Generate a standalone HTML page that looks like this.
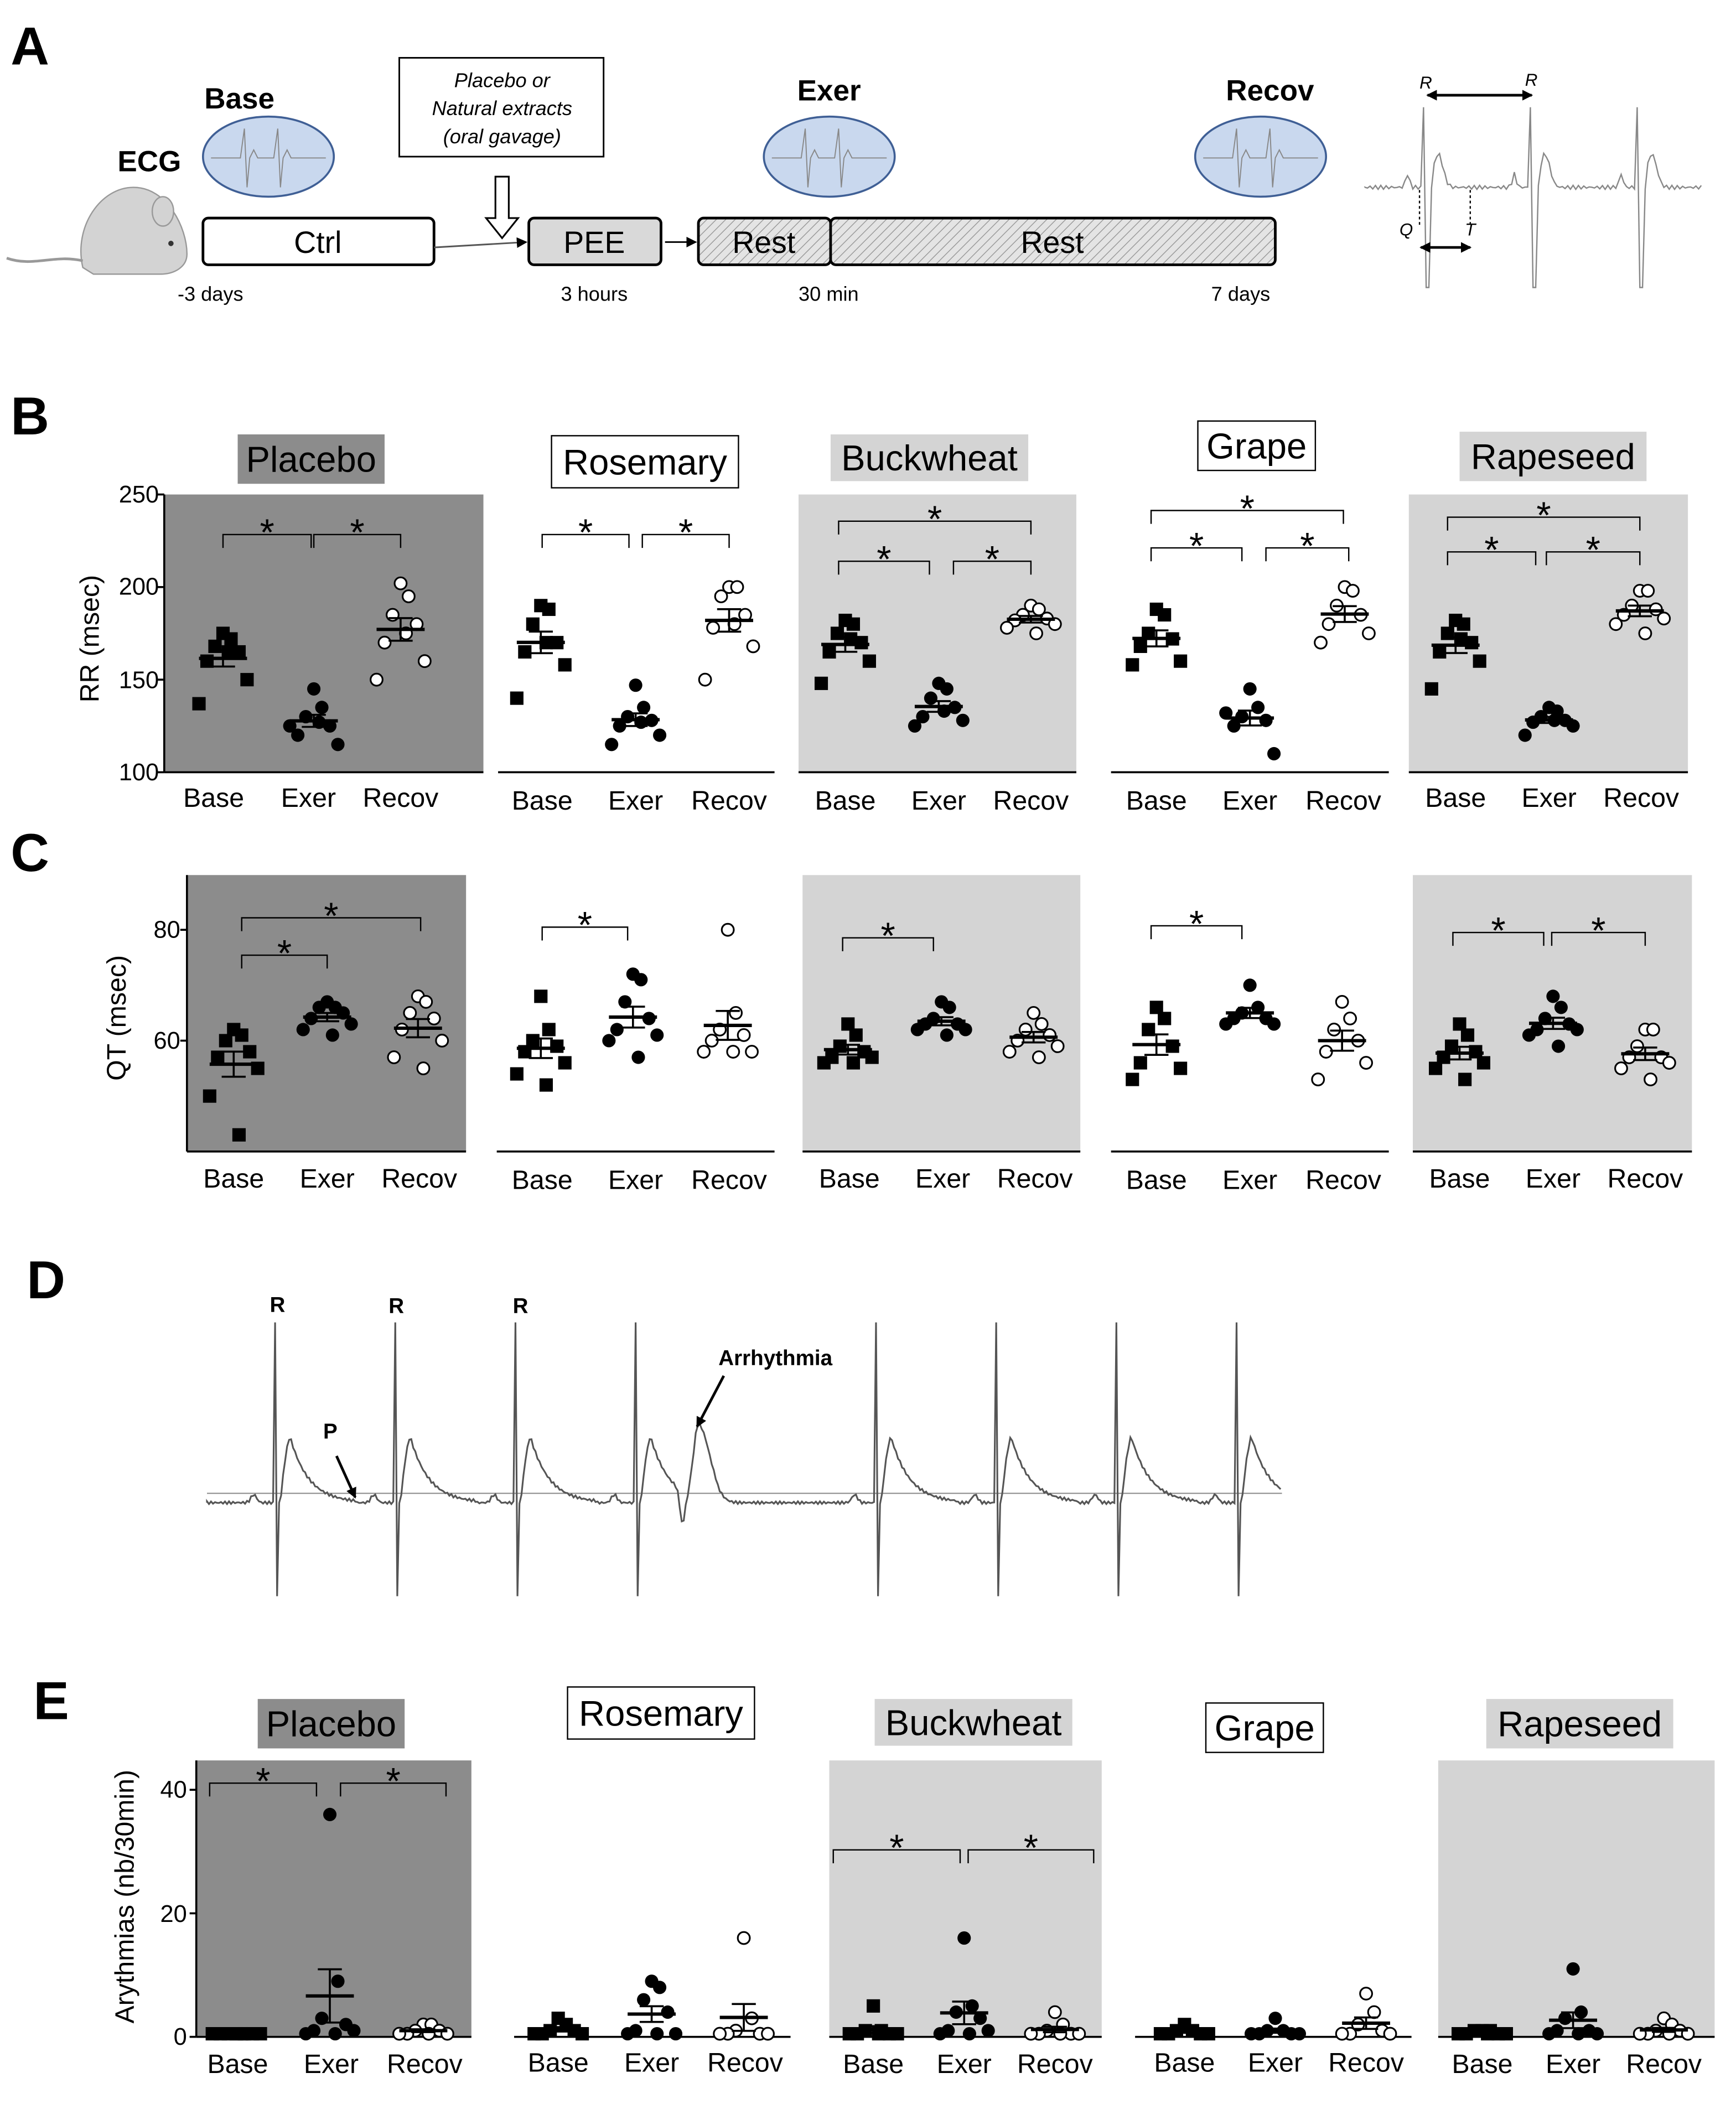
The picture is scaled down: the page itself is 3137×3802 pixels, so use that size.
<!DOCTYPE html>
<html><head><meta charset="utf-8"><style>
html,body{margin:0;padding:0;background:#fff}
svg{display:block}
text{font-family:"Liberation Sans",Arial,sans-serif}
</style></head><body>
<svg id="s" width="3137" height="3802" viewBox="0 0 1300 1575" xmlns="http://www.w3.org/2000/svg">
<defs>
<pattern id="h" width="5" height="5" patternUnits="userSpaceOnUse" patternTransform="rotate(45)">
<rect width="5" height="5" fill="#e4e4e4"/><line x1="0" y1="0" x2="0" y2="5" stroke="#999" stroke-width="1.2"/></pattern>
<marker id="ar" markerUnits="userSpaceOnUse" markerWidth="8" markerHeight="8" refX="7" refY="4" orient="auto"><path d="M0,0 L8,4 L0,8z" fill="#000"/></marker>
<marker id="al" markerUnits="userSpaceOnUse" markerWidth="8" markerHeight="8" refX="1" refY="4" orient="auto"><path d="M8,0 L0,4 L8,8z" fill="#000"/></marker>
</defs>
<rect width="1300" height="1575" fill="#fff"/>
<g font-weight="bold" font-size="40">
<text x="8" y="48">A</text><text x="8" y="325">B</text><text x="8" y="652">C</text><text x="20" y="972">D</text><text x="25" y="1287">E</text></g>
<g font-weight="bold" font-size="22">
<text x="153" y="81">Base</text><text x="88" y="128">ECG</text><text x="597" y="75">Exer</text><text x="918" y="75">Recov</text></g>
<g fill="#c9d8ee" stroke="#3f5f95" stroke-width="1.5">
<ellipse cx="201" cy="117" rx="49" ry="30"/><ellipse cx="621" cy="117" rx="49" ry="30"/><ellipse cx="944" cy="117" rx="49" ry="30"/></g>
<g fill="none" stroke="#888" stroke-width="0.8">
<path d="M158,118 H180 L183,96 L185,140 L187,118 L190,112 L193,118 H205 L208,96 L210,140 L212,118 L215,112 L218,118 H244"/>
<path d="M578,118 H600 L603,96 L605,140 L607,118 L610,112 L613,118 H625 L628,96 L630,140 L632,118 L635,112 L638,118 H664"/>
<path d="M901,118 H923 L926,96 L928,140 L930,118 L933,112 L936,118 H948 L951,96 L953,140 L955,118 L958,112 L961,118 H987"/></g>
<rect x="299" y="43" width="153" height="74" fill="#fff" stroke="#000" stroke-width="1.2"/>
<g font-style="italic" font-size="15" text-anchor="middle"><text x="376" y="65">Placebo  or</text><text x="376" y="86">Natural extracts</text><text x="376" y="107">(oral gavage)</text></g>
<path d="M371,132 H381 V163 H388 L376,178 L364,163 H371Z" fill="#fff" stroke="#000" stroke-width="1.3"/>
<g fill="#d3d3d3" stroke="#999" stroke-width="1">
<path d="M62,200 C55,170 75,140 100,140 C125,140 140,170 140,190 C140,200 130,205 120,205 L70,205 Z"/>
<ellipse cx="122" cy="158" rx="8" ry="11"/></g>
<path d="M62,195 C40,190 25,200 5,193" fill="none" stroke="#999" stroke-width="2"/>
<circle cx="128" cy="182" r="2" fill="#333"/>
<rect x="152" y="163" width="173" height="35" rx="4" fill="#fff" stroke="#000" stroke-width="2"/>
<rect x="396" y="163" width="99" height="35" rx="4" fill="#d9d9d9" stroke="#000" stroke-width="2"/>
<rect x="523" y="163" width="99" height="35" rx="4" fill="url(#h)" stroke="#000" stroke-width="2"/>
<rect x="622" y="163" width="333" height="35" rx="4" fill="url(#h)" stroke="#000" stroke-width="2"/>
<line x1="325" y1="185" x2="394" y2="181" stroke="#555" stroke-width="1.2" marker-end="url(#ar)"/>
<line x1="498" y1="181" x2="521" y2="181" stroke="#000" stroke-width="1.2" marker-end="url(#ar)"/>
<g font-size="23" text-anchor="middle"><text x="238" y="189">Ctrl</text><text x="445" y="189">PEE</text><text x="572" y="189">Rest</text><text x="788" y="189">Rest</text></g>
<g font-size="15"><text x="133" y="225">-3 days</text><text x="420" y="225">3 hours</text><text x="598" y="225">30 min</text><text x="907" y="225">7 days</text></g>
<path id="ecgA" fill="none" stroke="#888" stroke-width="1"/>
<line x1="1069" y1="71" x2="1147" y2="71" stroke="#000" stroke-width="2" marker-start="url(#al)" marker-end="url(#ar)"/>
<line x1="1064" y1="185" x2="1101" y2="185" stroke="#000" stroke-width="2" marker-start="url(#al)" marker-end="url(#ar)"/>
<g stroke="#000" stroke-dasharray="2,2"><line x1="1063" y1="142" x2="1063" y2="170"/><line x1="1101" y1="142" x2="1101" y2="170"/></g>
<g font-style="italic" font-size="13"><text x="1063" y="66">R</text><text x="1142" y="64">R</text><text x="1048" y="176">Q</text><text x="1097" y="176">T</text></g>
<line x1="155" y1="1118" x2="960" y2="1118" stroke="#888" stroke-width="0.8"/>
<path id="ecgD" fill="none" stroke="#555" stroke-width="1.3"/>
<g font-weight="bold" font-size="16"><text x="202" y="982">R</text><text x="291" y="983">R</text><text x="384" y="983">R</text><text x="242" y="1077">P</text><text x="538" y="1022">Arrhythmia</text></g>
<line x1="252" y1="1090" x2="266" y2="1121" stroke="#000" stroke-width="2" marker-end="url(#ar)"/>
<line x1="542" y1="1030" x2="522" y2="1068" stroke="#000" stroke-width="2" marker-end="url(#ar)"/>
<g font-size="27" text-anchor="middle">
<rect x="178" y="325" width="110" height="37" fill="#8c8c8c"/><text x="233" y="353">Placebo</text>
<rect x="413" y="326" width="140" height="39" fill="#fff" stroke="#000"/><text x="483" y="355">Rosemary</text>
<rect x="622" y="325" width="148" height="35" fill="#d4d4d4"/><text x="696" y="352">Buckwheat</text>
<rect x="897" y="315" width="88" height="37" fill="#fff" stroke="#000"/><text x="941" y="343">Grape</text>
<rect x="1093" y="323" width="140" height="37" fill="#d4d4d4"/><text x="1163" y="351">Rapeseed</text>
<rect x="193" y="1272" width="110" height="37" fill="#8c8c8c"/><text x="248" y="1300">Placebo</text>
<rect x="425" y="1263" width="140" height="39" fill="#fff" stroke="#000"/><text x="495" y="1292">Rosemary</text>
<rect x="655" y="1272" width="148" height="35" fill="#d4d4d4"/><text x="729" y="1299">Buckwheat</text>
<rect x="903" y="1275" width="88" height="37" fill="#fff" stroke="#000"/><text x="947" y="1303">Grape</text>
<rect x="1113" y="1272" width="140" height="37" fill="#d4d4d4"/><text x="1183" y="1300">Rapeseed</text>
</g>
<g font-size="20" text-anchor="middle">
<text transform="translate(74,478) rotate(-90)">RR (msec)</text>
<text transform="translate(94,762) rotate(-90)">QT (msec)</text>
<text transform="translate(100,1420) rotate(-90)">Arythmias (nb/30min)</text></g>
<g font-size="18" text-anchor="end">
<text x="119" y="376">250</text><text x="119" y="445">200</text><text x="119" y="515">150</text><text x="119" y="584">100</text>
<text x="135" y="702">80</text><text x="135" y="785">60</text>
<text x="140" y="1346">40</text><text x="140" y="1439">20</text><text x="140" y="1531">0</text></g>
<g font-size="20" text-anchor="middle">
<text x="160" y="604">Base</text><text x="231" y="604">Exer</text><text x="300" y="604">Recov</text>
<text x="406" y="606">Base</text><text x="476" y="606">Exer</text><text x="546" y="606">Recov</text>
<text x="633" y="606">Base</text><text x="703" y="606">Exer</text><text x="772" y="606">Recov</text>
<text x="866" y="606">Base</text><text x="936" y="606">Exer</text><text x="1006" y="606">Recov</text>
<text x="1090" y="604">Base</text><text x="1160" y="604">Exer</text><text x="1229" y="604">Recov</text>
<text x="175" y="889">Base</text><text x="245" y="889">Exer</text><text x="314" y="889">Recov</text>
<text x="406" y="890">Base</text><text x="476" y="890">Exer</text><text x="546" y="890">Recov</text>
<text x="636" y="889">Base</text><text x="706" y="889">Exer</text><text x="775" y="889">Recov</text>
<text x="866" y="890">Base</text><text x="936" y="890">Exer</text><text x="1006" y="890">Recov</text>
<text x="1093" y="889">Base</text><text x="1163" y="889">Exer</text><text x="1232" y="889">Recov</text>
<text x="178" y="1552">Base</text><text x="248" y="1552">Exer</text><text x="318" y="1552">Recov</text>
<text x="418" y="1551">Base</text><text x="488" y="1551">Exer</text><text x="558" y="1551">Recov</text>
<text x="654" y="1552">Base</text><text x="722" y="1552">Exer</text><text x="790" y="1552">Recov</text>
<text x="887" y="1551">Base</text><text x="955" y="1551">Exer</text><text x="1023" y="1551">Recov</text>
<text x="1110" y="1552">Base</text><text x="1178" y="1552">Exer</text><text x="1246" y="1552">Recov</text>
</g>
<g id="plots"></g>
</svg>
<script>
var NS="http://www.w3.org/2000/svg",P=document.getElementById('plots');
function el(t,a){var e=document.createElementNS(NS,t);for(var k in a)e.setAttribute(k,a[k]);P.appendChild(e);return e;}
(function(){var d="M1022,140",x=1022;var beats=[1068,1148,1228];
for(x=1022;x<=1275;x+=2){var y=140+Math.sin(x*1.7)*1.5;
beats.forEach(function(b){var dx=x-b;if(dx>=-2&&dx<0)y=80;if(dx>=0&&dx<3)y=215;if(dx>4&&dx<25)y-=25*Math.exp(-Math.pow((dx-9)/5,2));if(dx>-20&&dx<-8)y-=10*Math.exp(-Math.pow((dx+14)/2,2));});
d+=" L"+x+","+y.toFixed(1);}document.getElementById('ecgA').setAttribute('d',d);})();
(function(){var beats=[207,297,387,477,657,747,837,927];var d="M155,1125";
for(var x=155;x<=960;x+=1.5){var y=1125+Math.sin(x*2.3)*1;
beats.forEach(function(b){var dx=x-b;if(dx>=-2&&dx<0)y=990;if(dx>=0&&dx<2)y=1195;if(dx>3&&dx<60)y-=50*Math.exp(-(dx-10)/14)*(dx<10?(dx-3)/7:1);if(dx>-25&&dx<-10)y-=6*Math.exp(-Math.pow((dx+17)/3,2));});
var a=x-520;y+=25*Math.exp(-Math.pow((a+9)/2.5,2));if(a>-4)y-=55*Math.exp(-Math.pow((a-3)/(a<3?5:12),2));
d+=" L"+x.toFixed(1)+","+y.toFixed(1);}document.getElementById('ecgD').setAttribute('d',d);})();
function panel(o){
 if(o.fill)el('rect',{x:o.x1,y:o.y1,width:o.x2-o.x1,height:o.y2-o.y1,fill:o.fill});
 el('line',{x1:o.x1,y1:o.y2,x2:o.x2,y2:o.y2,stroke:'#000','stroke-width':1.5});
 if(o.axis){el('line',{x1:o.x1,y1:o.y1,x2:o.x1,y2:o.y2,stroke:'#000','stroke-width':1.5});
  o.ticks.forEach(function(t){var y=o.f(t);el('line',{x1:o.x1-5,y1:y,x2:o.x1,y2:y,stroke:'#000','stroke-width':1.5});});}
 o.g.forEach(function(vals,i){var cx=o.cx[i],n=vals.length,m=0;vals.forEach(function(v){m+=v});m/=n;
  var sd=0;vals.forEach(function(v){sd+=(v-m)*(v-m)});sd=Math.sqrt(sd/(n-1))/Math.sqrt(n);
  vals.forEach(function(v,j){var px=cx+((j%2?1:-1)*Math.ceil(j/2)*6)%20;var py=o.f(v);
   if(i==0)el('rect',{x:px-5,y:py-5,width:10,height:10,fill:'#000'});
   else if(i==1)el('circle',{cx:px,cy:py,r:5,fill:'#000'});
   else el('circle',{cx:px,cy:py,r:4.5,fill:'#fff',stroke:'#000','stroke-width':1.3});});
  var ym=o.f(m);el('line',{x1:cx-18,y1:ym,x2:cx+18,y2:ym,stroke:'#000','stroke-width':2.5});
  el('line',{x1:cx,y1:o.f(m+sd),x2:cx,y2:o.f(m-sd),stroke:'#000','stroke-width':1.5});
  el('line',{x1:cx-9,y1:o.f(m+sd),x2:cx+9,y2:o.f(m+sd),stroke:'#000','stroke-width':1.5});
  el('line',{x1:cx-9,y1:o.f(m-sd),x2:cx+9,y2:o.f(m-sd),stroke:'#000','stroke-width':1.5});});
 (o.br||[]).forEach(function(b){el('path',{d:'M'+b[0]+','+(b[2]+10)+' V'+b[2]+' H'+b[1]+' V'+(b[2]+10),fill:'none',stroke:'#000','stroke-width':1});
  var t=el('text',{x:(b[0]+b[1])/2,y:b[2]+8,'font-size':28,'text-anchor':'middle'});t.textContent='*';});
}
var fB=function(v){return 578-(v-100)*208/150},fC=function(v){return 779-(v-60)*4.15},fE=function(v){return 1525-v*4.625};
var Bd=[
[[175,172,168,165,160,150,137,165],[145,135,130,125,120,115,125,127],[202,195,185,180,170,160,150,175]],
[[190,188,180,170,165,158,140,170],[147,135,130,128,125,120,115,127],[200,200,195,185,178,168,150,180]],
[[182,180,175,170,165,160,148,172],[148,145,140,135,130,128,125,133],[190,188,185,183,182,180,178,175]],
[[188,185,175,172,168,160,158],[145,135,130,128,125,110,132],[200,198,190,185,180,175,170]],
[[182,180,175,170,165,160,145,172],[135,133,130,128,127,125,120,128],[198,198,190,188,185,183,180,175]]];
var Cd=[
[[62,61,60,58,57,55,50,43],[67,66,66,65,64,63,62,61],[68,67,65,64,62,60,57,55]],
[[68,62,60,59,58,56,54,52],[72,71,67,64,62,61,60,57],[80,65,62,61,60,58,58,58]],
[[63,61,59,58,57,57,56,56],[67,66,64,63,63,62,62,61],[65,63,62,61,60,59,58,57]],
[[66,64,62,59,56,55,53],[70,66,65,64,64,63,63],[67,64,62,60,58,56,53]],
[[63,61,59,58,57,56,55,53],[68,66,64,63,62,62,61,59],[62,62,59,57,57,56,55,53]]];
var Ed=[
[[0.5,0.5,0.5,0.5,0.5,0.5,0.5,0.5],[36,9,3,2,1,1,0.5,0.5],[2,2,1,1,0.5,0.5,0.5,0.5]],
[[3,2,1,1,0.5,0.5,0.5],[9,8,6,4,1,0.5,0.5,0.5],[16,3,1,0.5,0.5,0.5,0.5]],
[[5,1,1,0.5,0.5,0.5,0.5,0.5],[16,5,4,3,1,1,0.5,0.5],[4,2,1,0.5,0.5,0.5,0.5,0.5]],
[[2,1,1,0.5,0.5,0.5,0.5],[3,1,1,0.5,0.5,0.5,0.5],[7,4,2,1,0.5,0.5,0.5]],
[[1,1,1,0.5,0.5,0.5,0.5,0.5],[11,4,3,1,1,0.5,0.5,0.5],[3,2,1,1,0.5,0.5,0.5,0.5]]];
var fills=['#8c8c8c',null,'#d4d4d4',null,'#d4d4d4'];
var BX=[[123,362],[373,580],[598,806],[832,1040],[1055,1264]],
BC=[[167,235,300],[405,476,546],[633,703,772],[866,936,1007],[1090,1160,1228]],
BB=[[[167,233,400],[235,300,400]],[[406,471,400],[481,546,400]],[[628,772,390],[628,696,420],[714,772,420]],[[862,1006,382],[862,930,410],[948,1010,410]],[[1084,1228,387],[1084,1150,413],[1158,1228,413]]];
var CX=[[140,349],[372,580],[601,809],[832,1040],[1058,1267]],
CC=[[175,245,313],[405,474,545],[635,705,774],[866,936,1005],[1093,1163,1232]],
CB=[[[181,315,687],[181,245,715]],[[406,470,694]],[[631,699,702]],[[862,930,693]],[[1088,1156,698],[1162,1232,698]]];
var EX=[[147,353],[385,592],[621,825],[850,1057],[1077,1284]],
EC=[[177,247,317],[418,488,557],[654,722,790],[887,955,1023],[1110,1178,1246]],
EB=[[[157,237,1335],[255,334,1335]],[],[[624,719,1385],[725,819,1385]],[],[]];
for(var i=0;i<5;i++){
panel({x1:BX[i][0],x2:BX[i][1],y1:370,y2:578,fill:fills[i],axis:i==0,ticks:[250,200,150,100],f:fB,g:Bd[i],cx:BC[i],br:BB[i]});
panel({x1:CX[i][0],x2:CX[i][1],y1:655,y2:862,fill:fills[i],axis:i==0,ticks:[80,60],f:fC,g:Cd[i],cx:CC[i],br:CB[i]});
panel({x1:EX[i][0],x2:EX[i][1],y1:1318,y2:1525,fill:fills[i],axis:i==0,ticks:[40,20,0],f:fE,g:Ed[i],cx:EC[i],br:EB[i]});}
</script>
</body></html>
